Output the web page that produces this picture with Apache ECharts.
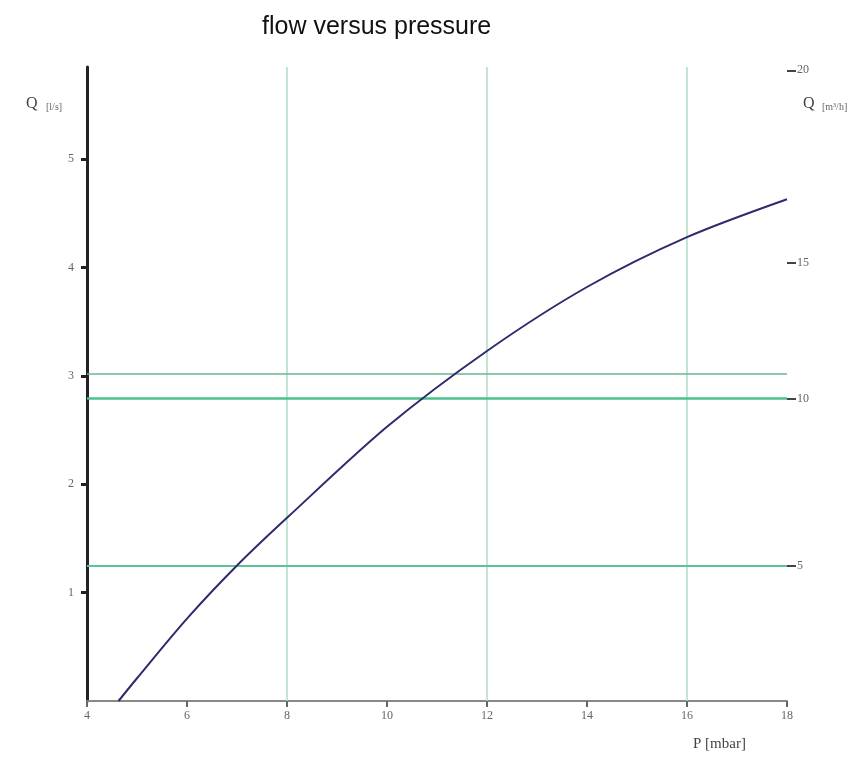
<!DOCTYPE html>
<html>
<head>
<meta charset="utf-8">
<script src="https://cdn.jsdelivr.net/npm/echarts@6/dist/echarts.min.js"></script>
<style>
  html, body { margin: 0; padding: 0; background: #fff; }
  #chart { width: 865px; height: 760px; }
</style>
</head>
<body>
<div id="chart"></div>
<script>
// pressure P [mbar] and flow Q [l/s]
var pressure = [4.63, 5, 6, 7, 8, 10, 12, 14, 16, 18];
var flow     = [0, 0.21, 0.76, 1.25, 1.69, 2.53, 3.23, 3.82, 4.28, 4.63];

var xTicks = [4, 6, 8, 10, 12, 14, 16, 18];
var leftTicks = [1, 2, 3, 4, 5];
// right axis (m3/h): where its ticks sit on the l/s scale, and their labels
var rightTickPos = [1.25, 2.79, 4.04, 5.82];
var rightTickLabels = ['5', '10', '15', '20'];
// reference lines
var vLines = [8, 12, 16];
var hLines = [3.02, 2.79, 1.25];

var curve = pressure.map(function (p, i) { return [p, flow[i]]; });

var serif = '"Liberation Serif", "DejaVu Serif", serif';
var tickLabel = { fontFamily: serif, fontSize: 12, color: '#666' };

var myChart = echarts.init(document.getElementById('chart'));
myChart.setOption({
  animation: false,
  title: {
    text: 'flow versus pressure',
    left: 257,
    top: 10,
    textStyle: { fontFamily: 'Liberation Sans, Arial, sans-serif', fontWeight: 'normal', fontSize: 25, color: '#111' }
  },
  grid: { left: 87, right: 78, top: 67, bottom: 59 },
  xAxis: {
    type: 'value',
    min: 4, max: 18, interval: 2,
    axisLine: { lineStyle: { color: '#888', width: 2 } },
    axisTick: { show: true, length: 6, lineStyle: { color: '#666', width: 2 } },
    axisLabel: Object.assign({ margin: 9 }, tickLabel),
    splitLine: { show: false }
  },
  yAxis: [{
    type: 'value',
    min: 0, max: 5.85,
    axisLine: { show: true, lineStyle: { color: '#222', width: 3 } },
    axisTick: { show: true, length: 6, customValues: leftTicks, lineStyle: { color: '#222', width: 3 } },
    axisLabel: Object.assign({ margin: 13, customValues: leftTicks }, tickLabel),
    splitLine: { show: false }
  }, {
    type: 'value',
    position: 'right',
    min: 0, max: 5.85,
    axisLine: { show: false },
    axisTick: { show: true, length: 9, customValues: rightTickPos, lineStyle: { color: '#444', width: 2 } },
    axisLabel: Object.assign({
      margin: 10,
      customValues: rightTickPos,
      formatter: function (v) {
        var i = rightTickPos.indexOf(v);
        return i >= 0 ? rightTickLabels[i] : '';
      }
    }, tickLabel),
    splitLine: { show: false }
  }],
  graphic: [
    { type: 'text', left: 26, top: 96, style: { text: 'Q', font: '16px ' + serif, fill: '#444' } },
    { type: 'text', left: 46, top: 102, style: { text: '[l/s]', font: '10px ' + serif, fill: '#666' } },
    { type: 'text', left: 803, top: 96, style: { text: 'Q', font: '16px ' + serif, fill: '#444' } },
    { type: 'text', left: 822, top: 102, style: { text: '[m³/h]', font: '10px ' + serif, fill: '#666' } },
    { type: 'text', left: 693, top: 737, style: { text: 'P [mbar]', font: '15px ' + serif, fill: '#444' } }
  ],
  series: [{
    type: 'line',
    data: curve,
    smooth: 0.3,
    showSymbol: false,
    lineStyle: { color: '#2e2a6e', width: 2 },
    z: 5,
    markLine: {
      silent: true,
      symbol: 'none',
      label: { show: false },
      z: 2,
      data: vLines.map(function (v) {
        return { xAxis: v, lineStyle: { color: '#b0ddc4', width: 1.5, type: 'solid' } };
      }).concat([
        { yAxis: hLines[0], lineStyle: { color: '#6cb592', width: 1.5, type: 'solid' } },
        { yAxis: hLines[1], lineStyle: { color: '#4cc08c', width: 2.5, type: 'solid' } },
        { yAxis: hLines[2], lineStyle: { color: '#5fc296', width: 2, type: 'solid' } }
      ])
    }
  }]
});
window.addEventListener('resize', function () { myChart.resize(); });
</script>
</body>
</html>
